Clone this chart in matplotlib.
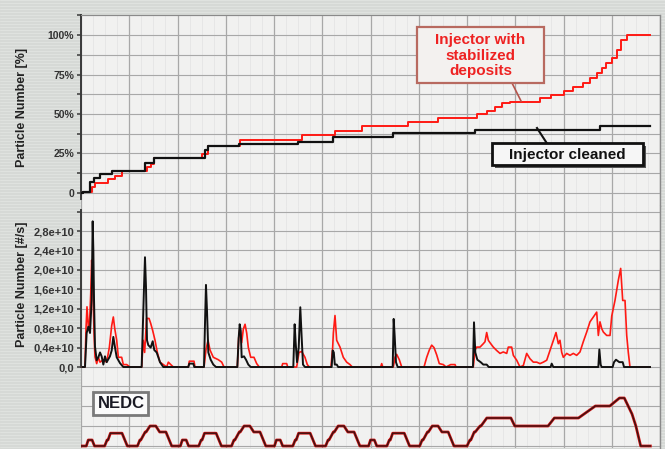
import numpy as np
import matplotlib
matplotlib.use("Agg")
import matplotlib.pyplot as plt
from matplotlib.patches import Rectangle
from matplotlib.lines import Line2D
from matplotlib.ticker import FuncFormatter, FixedLocator

plt.rcParams["font.family"] = ["Liberation Sans", "DejaVu Sans"]

# ---------------- data ----------------
# cumulative particle number [%] (step changes: time [s], level [%])
cum_t_cleaned = [0, 3.5, 18.7, 27.6, 39.4, 63.6, 132.6, 151.3, 257, 263, 328, 450, 522, 647, 817, 1075, 1180]
cum_cleaned = [0, 0.8, 7.2, 9.3, 12.0, 14.1, 19.2, 22.3, 27.0, 30.0, 31.0, 32.5, 35.2, 37.8, 39.9, 42.4, 42.4]

cum_t_deposits = [0, 3.5, 22, 29, 56.6, 70.5, 84.3, 136, 144.4, 151.3, 250, 264, 330, 458, 526, 582,
                  678, 740, 820, 841, 858, 872, 889, 951, 975, 1000, 1020, 1041, 1055, 1069, 1079,
                  1089, 1100, 1110, 1120, 1131, 1180]
cum_deposits = [0, 0.6, 3.8, 6.3, 9.0, 11.0, 13.9, 16.4, 18.5, 22.0, 24.6, 30.0, 33.5, 36.7, 39.4, 42.4,
                44.7, 47.3, 49.8, 51.9, 54.6, 56.8, 57.8, 59.9, 62.0, 64.6, 66.9, 69.4, 72.6, 75.8, 78.9,
                82.1, 85.2, 90.5, 96.8, 100, 100]

# particle number rate [1e10 #/s]
rate_t_cleaned = [3.5, 8.3, 11.7, 15.2, 18.7, 22.1, 24.2, 25.6, 27, 29, 32.5, 36, 39.4, 42.8, 46.3, 49.7,
                  53.2, 60, 63.6, 67, 70.5, 74, 80.8, 87.7, 125.7, 127.8, 130.6, 132.6, 134.7, 136.8,
                  139.5, 144.4, 148.6, 151.9, 156.8, 163.7, 170.6, 222.4, 224.5, 232.8, 234.8, 254.9,
                  257, 259, 261.1, 263.9, 268.8, 274.2, 279.8, 324, 326.8, 328.9, 331, 333, 337.8, 342,
                  346.7, 351.7, 440, 442.8, 444.9, 447.7, 451.2, 454.5, 457.4, 460.1, 464.2, 519.5,
                  521.6, 524, 526, 530, 533, 646, 648, 650.2, 652.8, 656.3, 812.4, 814.5, 817.2, 821.4,
                  828.3, 833.8, 840.8, 845, 973.4, 975.5, 978.9, 1072.2, 1074.3, 1077, 1079, 1101.9,
                  1104.7, 1108.8, 1115.7, 1122.7, 1125.4, 1179.3]
rate_cleaned = [0, 0, 0.7, 0.83, 0.7, 1.38, 3.0, 2.4, 1.38, 0.42, 0.14, 0.2, 0.3, 0.22, 0.05, 0.22,
                0.1, 0.22, 0.34, 0.62, 0.4, 0.2, 0.08, 0, 0, 0.7, 1.65, 2.26, 1.65, 0.55,
                0.45, 0.4, 0.53, 0.35, 0.3, 0.1, 0, 0, 0.07, 0.07, 0, 0,
                0.9, 1.69, 1.17, 0.3, 0.15, 0.05, 0, 0, 0.6, 0.88, 0.75, 0.2, 0.22, 0.15,
                0.05, 0, 0, 0.88, 0.5, 0.1, 0.4, 1.23, 0.6, 0.05, 0, 0,
                0.34, 0.3, 0.05, 0.05, 0, 0, 0.99, 0.62, 0.1, 0, 0, 0.92, 0.3, 0.15,
                0.1, 0.05, 0.05, 0, 0, 0.07, 0, 0, 0.36, 0.05, 0, 0,
                0.1, 0.15, 0.1, 0.1, 0, 0]

rate_t_deposits = [3.5, 8.3, 10.4, 12.4, 15.2, 17.3, 20.1, 22.1, 24.2, 27, 29, 32.5, 36, 39.4, 46.3, 53.2,
                   58.7, 63.6, 67, 69.8, 74, 77.4, 84.3, 87.7, 94.7, 101.6, 125.7, 129, 131.9, 136, 141,
                   144.4, 148.6, 153.4, 158.2, 163.7, 170.6, 177.6, 181, 186, 191.4, 222.4, 224.5, 234.2,
                   236.3, 255, 259, 263.2, 267.4, 274.2, 284.6, 291.6, 296.4, 324, 326.8, 329.5, 333,
                   336.4, 340, 343.4, 346.8, 351.7, 358.5, 364.1, 369.5, 416, 418, 426.3, 428.4, 447,
                   451.8, 457.4, 464.2, 469, 473.2, 518, 521.6, 523, 526.4, 529.9, 536.8, 543.6, 550.6,
                   557.5, 562.3, 621.1, 623.2, 625.3, 647.3, 650.8, 654.3, 659.7, 664.7, 710.9, 716.5,
                   721.9, 726.8, 731.6, 737.2, 742.6, 750.9, 756.5, 766.2, 775.1, 777.2, 813.1, 816.6,
                   820.1, 827, 833.8, 837.3, 840.8, 844.2, 847.7, 854.5, 861.5, 868.4, 875.2, 882.3,
                   885.6, 892.6, 896, 903, 909.8, 916.7, 923.7, 930.6, 937.5, 944.5, 951.3, 958.2, 965.2,
                   972, 978.9, 984.5, 989.3, 992.7, 996.3, 999.6, 1006.6, 1013.5, 1020.3, 1027.3,
                   1034.2, 1041, 1048.1, 1054.9, 1061.8, 1068.8, 1072.2, 1075.6, 1079.2, 1082.6,
                   1089.5, 1096.4, 1100, 1106.7, 1113.7, 1118.5, 1122.7, 1127.5, 1131, 1134.3, 1137.8,
                   1179.3]
rate_deposits = [0, 0, 0.8, 1.24, 0.83, 0.8, 1.5, 2.2, 1.8, 0.7, 0.21, 0.07, 0.2, 0.1, 0.15, 0.1,
                 0.4, 0.85, 1.03, 0.8, 0.55, 0.2, 0.2, 0.05, 0.05, 0, 0, 0.55, 0.3, 1.0, 1.0,
                 0.9, 0.75, 0.55, 0.3, 0.1, 0.05, 0, 0.1, 0.05, 0, 0, 0.12, 0.12,
                 0, 0, 0.35, 0.55, 0.35, 0.2, 0.15, 0.1, 0, 0, 0.6, 0.8, 0.5,
                 0.78, 0.88, 0.7, 0.4, 0.2, 0.2, 0.07, 0, 0, 0.07, 0.07, 0, 0,
                 0.3, 0.32, 0.2, 0.05, 0, 0, 0.4, 0.7, 1.06, 0.55, 0.41, 0.2, 0.1,
                 0.05, 0, 0, 0.07, 0, 0, 0.2, 0.26, 0.15, 0, 0, 0.2,
                 0.35, 0.45, 0.4, 0.25, 0.07, 0.05, 0, 0.05, 0.05, 0, 0, 0.35,
                 0.41, 0.41, 0.48, 0.52, 0.71, 0.55, 0.5, 0.41, 0.34, 0.28, 0.31, 0.28,
                 0.41, 0.41, 0.24, 0.14, 0, 0.03, 0.28, 0.17, 0.1, 0.1, 0.07, 0.1, 0.14,
                 0.34, 0.55, 0.71, 0.48, 0.55, 0.3, 0.2, 0.28, 0.24, 0.28, 0.24,
                 0.31, 0.52, 0.72, 0.93, 1.03, 1.13, 0.65, 0.93, 0.79, 0.72,
                 0.65, 0.65, 1.05, 1.37, 1.79, 2.03, 1.37, 1.37, 0.65, 0.3, 0,
                 0]

# NEDC driving cycle: ECE-15 urban segment (run 4 times) + EUDC
ece_t = [0, 11, 15, 23, 28, 49, 54, 56, 61, 85, 96, 117, 122, 124, 133, 135, 143, 155, 163, 176, 188, 195]
ece_v = [0, 0, 15, 15, 0, 0, 15, 15, 32, 32, 0, 0, 15, 15, 35, 35, 50, 50, 35, 35, 0, 0]
eudc_t = [780, 800, 806, 808, 815, 817, 827, 829, 841, 891, 899, 968, 981, 1031, 1066, 1096, 1116,
          1126, 1142, 1150, 1160, 1180]
eudc_v = [0, 0, 15, 15, 35, 35, 50, 50, 70, 70, 50, 50, 70, 70, 100, 100, 120, 120, 80, 50, 0, 0]

pct_ticks = [0, 25, 50, 75, 100]
pct_labels = ["0", "25%", "50%", "75%", "100%"]
rate_ticks = [0, 0.4, 0.8, 1.2, 1.6, 2.0, 2.4, 2.8]

# ---------------- figure ----------------
W, H = 665, 449
fig = plt.figure(figsize=(W / 100, H / 100), dpi=100, facecolor="#d6d9d6")


def fx(x):
    return x / W


def fy(y):
    return 1 - y / H


# faint scan-line texture on the page
for yy in range(0, H, 3):
    fig.add_artist(Line2D([0, 1], [fy(yy), fy(yy)], transform=fig.transFigure,
                          color="#e4e6e3", lw=0.5, zorder=-5))

L, R = 81, 660
ax_top = fig.add_axes([fx(L), fy(206), (R - L) / W, (206 - 15) / H])
ax_mid = fig.add_axes([fx(L), fy(369), (R - L) / W, (369 - 206) / H])
ax_ned = fig.add_axes([fx(L), fy(448), (R - L) / W, (448 - 369) / H])

GRID = "#a8a8a8"
SPINE = "#3a3a3a"
RED = "#ff1a14"
BLK = "#111111"

for ax in (ax_top, ax_mid, ax_ned):
    ax.set_facecolor("#f1f1f0")
    ax.set_xlim(0, 1200)
    ax.xaxis.set_major_locator(FixedLocator(np.arange(0, 1201, 100)))
    ax.xaxis.set_minor_locator(FixedLocator(np.arange(0, 1201, 25)))
    ax.tick_params(axis="x", which="both", length=0, labelbottom=False)
    ax.grid(axis="x", which="major", color=GRID, lw=0.9)
    ax.grid(axis="x", which="minor", color="#e2e2e2", lw=0.5)
    ax.spines["bottom"].set_visible(False)
    ax.spines["top"].set_visible(False)
    ax.spines["right"].set_color("#8a8a8a")
    ax.spines["right"].set_linewidth(1.0)
    ax.set_axisbelow(True)

# ---- cumulative panel ----
ax_top.set_ylim(-8.23, 112.66)
ax_top.spines["top"].set_visible(True)
ax_top.spines["top"].set_color("#8a8a8a")
ax_top.spines["left"].set_color(SPINE)
ax_top.spines["left"].set_linewidth(1.4)
ax_top.spines["left"].set_bounds(-3.5, 112.66)
ax_top.yaxis.set_major_locator(FixedLocator(pct_ticks))
ax_top.yaxis.set_minor_locator(FixedLocator(np.arange(-12.5, 113, 12.5)))
ax_top.set_yticklabels(pct_labels)
ax_top.tick_params(axis="y", which="both", direction="out", length=3, width=1.1, color=SPINE,
                   labelsize=7.5, labelcolor="#333333", pad=2)
for lab in ax_top.get_yticklabels():
    lab.set_fontweight("bold")
ax_top.grid(axis="y", which="both", color=GRID, lw=0.8)

ax_top.step(cum_t_deposits, cum_deposits, where="post", color=RED, lw=1.4, zorder=3)
ax_top.step(cum_t_cleaned, cum_cleaned, where="post", color=BLK, lw=1.6, zorder=4)

# ---- rate panel ----
ax_mid.set_ylim(-0.041e10, 3.315e10)
ax_mid.spines["left"].set_color(SPINE)
ax_mid.spines["left"].set_linewidth(1.4)
ax_mid.spines["left"].set_bounds(0, 3.23e10)
ax_mid.yaxis.set_major_locator(FixedLocator([v * 1e10 for v in rate_ticks]))
ax_mid.yaxis.set_minor_locator(FixedLocator([3.2e10]))


def rate_fmt(v, pos):
    if abs(v) < 1e6:
        return "0,0"
    return f"{v / 1e10:.1f}".replace(".", ",") + "e+10"


ax_mid.yaxis.set_major_formatter(FuncFormatter(rate_fmt))
ax_mid.tick_params(axis="y", which="both", direction="out", length=3, width=1.1, color=SPINE,
                   labelsize=8, labelcolor="#333333", pad=2)
for lab in ax_mid.get_yticklabels():
    lab.set_fontweight("bold")
ax_mid.grid(axis="y", which="both", color=GRID, lw=0.8)

ax_mid.plot(rate_t_deposits, np.array(rate_deposits) * 1e10, color=RED, lw=1.2, zorder=3)
ax_mid.plot(rate_t_cleaned, np.array(rate_cleaned) * 1e10, color=BLK, lw=1.4, zorder=4)

# ---- NEDC panel ----
ax_ned.set_ylim(-5, 192.5)
ax_ned.spines["left"].set_visible(False)
ax_ned.yaxis.set_major_locator(FixedLocator([0, 50, 100, 150]))
ax_ned.tick_params(axis="y", length=0, labelleft=False)
ax_ned.grid(axis="y", color=GRID, lw=0.8)

nedc_t, nedc_v = [], []
for k in range(4):
    nedc_t += [t + 195 * k for t in ece_t]
    nedc_v += ece_v
nedc_t += eudc_t
nedc_v += eudc_v
ax_ned.plot(nedc_t, nedc_v, color="#d01010", lw=2.0, zorder=3, solid_joinstyle="round")
ax_ned.plot(nedc_t, nedc_v, color="#3a1414", lw=1.0, zorder=4, solid_joinstyle="round")

# ---- axis titles ----
fig.text(fx(22), fy(107), "Particle Number [%]", rotation=90, ha="center", va="center",
         fontsize=9, fontweight="bold", color="#222222")
fig.text(fx(22), fy(284), "Particle Number [#/s]", rotation=90, ha="center", va="center",
         fontsize=9, fontweight="bold", color="#222222")


# ---- callouts ----
def box(x0, y0, x1, y1, fc, ec, lw, shadow=False):
    if shadow:
        fig.add_artist(Rectangle((fx(x0 + 3), fy(y1 + 3)), (x1 - x0) / W, (y1 - y0) / H,
                                 transform=fig.transFigure, fc="#555555", ec="none", zorder=9))
    fig.add_artist(Rectangle((fx(x0), fy(y1)), (x1 - x0) / W, (y1 - y0) / H,
                             transform=fig.transFigure, fc=fc, ec=ec, lw=lw, zorder=10))


# leader lines
fig.add_artist(Line2D([fx(512), fx(521)], [fy(83), fy(101)], transform=fig.transFigure,
                      color="#b4554c", lw=1.2, zorder=8))
fig.add_artist(Line2D([fx(537), fx(548)], [fy(128), fy(145)], transform=fig.transFigure,
                      color=BLK, lw=1.5, zorder=8))

box(417, 27, 544, 83, "#f3f1ef", "#b86a60", 1.6)
fig.text(fx(480.5), fy(55.5), "Injector with\nstabilized\ndeposits", ha="center", va="center",
         multialignment="center", fontsize=11, fontweight="bold", color="#ee2222",
         linespacing=1.1, zorder=11)

box(492, 143, 643, 165, "#f6f6f6", BLK, 2.0, shadow=True)
fig.text(fx(567.5), fy(154.5), "Injector cleaned", ha="center", va="center",
         fontsize=11, fontweight="bold", color=BLK, zorder=11)

box(93, 392, 148, 415, "#fbfbfb", "#7a7a7a", 2.0)
fig.text(fx(121), fy(403.5), "NEDC", ha="center", va="center",
         fontsize=12, fontweight="bold", color="#1a1a24", zorder=11)

fig.savefig("out.png", dpi=100, facecolor=fig.get_facecolor())
